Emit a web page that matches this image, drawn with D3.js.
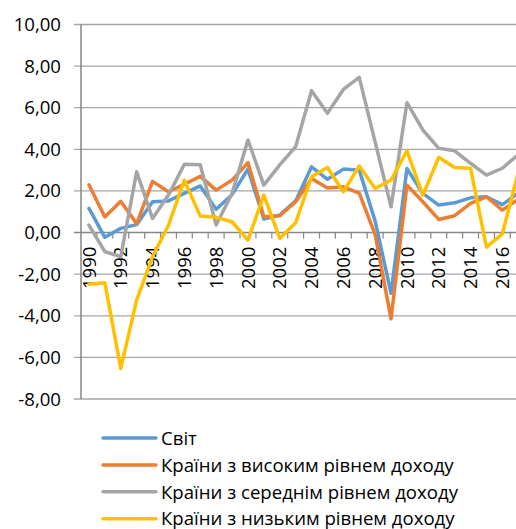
<!DOCTYPE html>
<html>
<head>
<meta charset="utf-8">
<script src="https://cdn.jsdelivr.net/npm/d3@7"></script>
<style>
  body { margin: 0; background: #fff; }
  svg { display: block; font-family: "Open Sans", sans-serif; }
</style>
</head>
<body>
<svg id="chart" width="516" height="529"></svg>
<script>
const WIDTH = 516;
const HEIGHT = 529;

const years = [1990, 1991, 1992, 1993, 1994, 1995, 1996, 1997, 1998, 1999,
  2000, 2001, 2002, 2003, 2004, 2005, 2006, 2007, 2008, 2009,
  2010, 2011, 2012, 2013, 2014, 2015, 2016, 2017];

const world = [1.16, -0.23, 0.2, 0.38, 1.48, 1.52, 1.88, 2.24, 1.12, 1.82,
  3.05, 0.65, 0.84, 1.52, 3.16, 2.56, 3.05, 3.0, 0.55, -2.92,
  3.08, 1.88, 1.32, 1.43, 1.67, 1.72, 1.34, 1.9];
const highIncome = [2.3, 0.75, 1.5, 0.43, 2.46, 1.96, 2.32, 2.7, 2.04, 2.52,
  3.36, 0.76, 0.81, 1.48, 2.6, 2.14, 2.2, 1.9, -0.1, -4.15,
  2.28, 1.48, 0.63, 0.81, 1.4, 1.72, 1.08, 1.6];
const middleIncome = [0.36, -0.92, -1.16, 2.92, 0.68, 1.8, 3.28, 3.26, 0.36, 1.88,
  4.45, 2.28, 3.25, 4.13, 6.82, 5.73, 6.88, 7.46, 4.35, 1.24,
  6.24, 4.93, 4.05, 3.93, 3.33, 2.76, 3.09, 3.75];
const lowIncome = [-2.48, -2.41, -6.53, -3.25, -1.15, 0.35, 2.52, 0.79, 0.73, 0.52,
  -0.36, 1.8, -0.28, 0.47, 2.68, 3.13, 1.96, 3.2, 2.12, 2.52,
  3.93, 1.8, 3.62, 3.13, 3.09, -0.7, -0.06, 2.9];

const seriesNames = [
  "Світ",
  "Країни з високим рівнем доходу",
  "Країни з середнім рівнем доходу",
  "Країни з низьким рівнем доходу"
];
const seriesValues = [world, highIncome, middleIncome, lowIncome];
const colors = ["#5B9BD5", "#ED7D31", "#A5A5A5", "#FFC000"];

const yTicks = [-8, -6, -4, -2, 0, 2, 4, 6, 8, 10];
const labelYears = [1990, 1992, 1994, 1996, 1998, 2000, 2002, 2004, 2006, 2008, 2010, 2012, 2014, 2016];

const FONT_SIZE = 18.6;
const svg = d3.select("#chart");

const PLOT_LEFT = 81;
const STEP = 15.9;

const x = d3.scaleBand()
  .domain(years)
  .range([PLOT_LEFT, PLOT_LEFT + STEP * years.length])
  .padding(0);

const y = d3.scaleLinear()
  .domain([-8, 10])
  .range([399, 24.5]);

const fmt = (d) => d.toFixed(2).replace(".", ",");

// gridlines
svg.append("g")
  .selectAll("line")
  .data(yTicks)
  .enter()
  .append("line")
  .attr("x1", PLOT_LEFT - 7)
  .attr("x2", WIDTH)
  .attr("y1", (d) => y(d))
  .attr("y2", (d) => y(d))
  .attr("stroke", (d) => d === 0 ? "none" : "#a6a6a6")
  .attr("stroke-width", 1.3);

// y labels
svg.append("g")
  .selectAll("text")
  .data(yTicks)
  .enter()
  .append("text")
  .attr("x", 61)
  .attr("y", (d) => y(d))
  .attr("dy", "0.35em")
  .attr("text-anchor", "end")
  .attr("font-size", FONT_SIZE)
  .attr("fill", "#000")
  .text(fmt);

// y axis line
svg.append("line")
  .attr("x1", PLOT_LEFT)
  .attr("x2", PLOT_LEFT)
  .attr("y1", y(10))
  .attr("y2", y(-8))
  .attr("stroke", "#868686")
  .attr("stroke-width", 1.5);

// x axis at zero, ticks on band edges
const y0 = y(0);
svg.append("line")
  .attr("x1", PLOT_LEFT - 7)
  .attr("x2", WIDTH)
  .attr("y1", y0)
  .attr("y2", y0)
  .attr("stroke", "#868686")
  .attr("stroke-width", 1.5);

svg.append("g")
  .selectAll("line")
  .data(years)
  .enter()
  .append("line")
  .attr("x1", (d) => x(d) + x.bandwidth())
  .attr("x2", (d) => x(d) + x.bandwidth())
  .attr("y1", y0)
  .attr("y2", y0 + 6)
  .attr("stroke", "#868686")
  .attr("stroke-width", 1.2);

svg.append("g")
  .selectAll("text")
  .data(labelYears)
  .enter()
  .append("text")
  .attr("transform", (d) => "translate(" + (x(d) + x.bandwidth() / 2) + "," + (y0 + 14) + ") rotate(-90)")
  .attr("dy", "0.36em")
  .attr("text-anchor", "end")
  .attr("font-size", FONT_SIZE)
  .attr("fill", "#000")
  .text((d) => d);

// lines
const line = d3.line()
  .x((d, i) => x(years[i]) + x.bandwidth() / 2)
  .y((d) => y(d));

svg.append("g")
  .selectAll("path")
  .data(seriesValues)
  .enter()
  .append("path")
  .attr("d", line)
  .attr("fill", "none")
  .attr("stroke", (d, i) => colors[i])
  .attr("stroke-width", 3.5)
  .attr("stroke-linejoin", "round")
  .attr("stroke-linecap", "round");

// legend
const LEGEND_X = 103;
const LEGEND_Y = 438;
const LEGEND_ROW = 26.9;

const legendItem = svg.append("g")
  .selectAll("g")
  .data(seriesNames)
  .enter()
  .append("g")
  .attr("transform", (d, i) => "translate(" + LEGEND_X + "," + (LEGEND_Y + i * LEGEND_ROW) + ")");

legendItem.append("line")
  .attr("x1", 0)
  .attr("x2", 53)
  .attr("stroke", (d, i) => colors[i])
  .attr("stroke-width", 3.5)
  .attr("stroke-linecap", "round");

legendItem.append("text")
  .attr("x", 58)
  .attr("dy", "0.36em")
  .attr("font-size", FONT_SIZE)
  .attr("fill", "#000")
  .text((d) => d);
</script>
</body>
</html>
